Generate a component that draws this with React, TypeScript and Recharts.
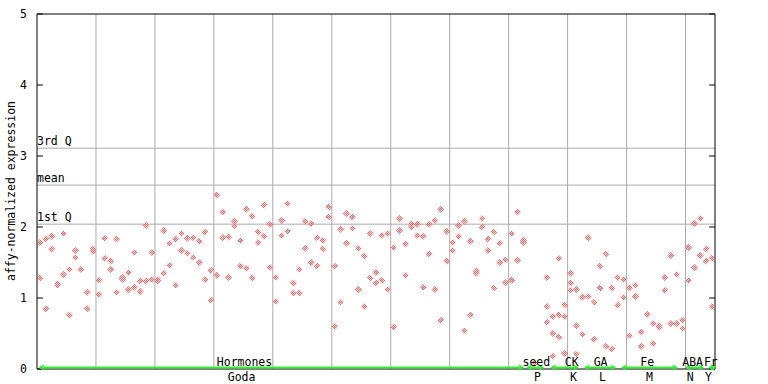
import React from 'react';
import { ComposedChart, Scatter, XAxis, YAxis, ReferenceLine, ReferenceDot } from 'recharts';

// replicate values per sample (index 0..114)
const repA: (number | null)[] = [
  1.78, 1.83, 1.87, 1.20, 1.91, 1.40, 1.67, 1.40, 1.08, 1.69,
  1.25, 1.84, 1.52, 1.83, 1.29, 1.36, 1.64, 1.24, 2.02, 1.64,
  1.26, 1.95, 1.77, 1.83, 1.91, 1.84, 1.85, 1.80, 1.93, 1.39,
  2.45, 2.21, 1.86, 2.08, 1.81, 2.25, 2.15, 1.93, 2.31, 2.04,
  1.29, 2.09, 2.33, 1.21, 1.40, 2.08, 2.05, 1.85, 1.81, 2.28,
  1.45, 1.97, 2.19, 2.14, 1.70, 1.59, 1.91, 1.36, 1.88, 1.91,
  1.71, 2.12, 1.76, 2.05, 2.04, 1.87, 2.04, 2.09, 2.25, 1.94,
  1.78, 2.02, 2.08, 1.80, 1.38, 2.12, 1.83, 1.93, 1.77, 1.54,
  1.91, 2.21, 1.81, null, 0.08, null, 1.29, 0.74, 1.56, 0.90,
  1.35, 1.12, 1.01, 1.85, 0.94, 1.45, 1.62, 1.14, 1.29, 1.26,
  1.14, 1.18, 0.52, 0.77, 0.64, 0.61, 1.29, 1.60, 1.33, 0.69,
  1.71, 2.05, 2.12, 1.69, 1.56,
];
const repB: (number | null)[] = [
  1.28, 0.85, 1.69, 1.18, 1.33, 0.76, 1.57, 1.40, 0.85, 1.66,
  1.05, 1.56, 1.40, 1.08, 1.26, 1.12, 1.15, 1.09, 1.24, 1.26,
  1.24, 1.35, 1.46, 1.18, 1.67, 1.63, 1.57, 1.50, 1.26, 0.97,
  1.32, 1.85, 1.29, 2.01, 1.45, 1.42, 1.28, 1.78, 1.87, 1.43,
  0.95, 1.88, 1.94, 1.07, 1.07, 1.70, 1.50, 1.45, 1.69, 2.14,
  0.60, 0.94, 1.77, 1.98, 1.12, 0.88, 1.28, 1.21, 1.25, 1.12,
  0.59, 1.95, 1.32, 2.00, 1.88, 1.15, 1.62, 1.12, 0.69, 1.52,
  1.67, 1.87, 0.54, 0.76, 1.35, 2.00, 1.67, 1.14, 1.50, 1.22,
  1.25, 1.53, 1.78, null, 0.08, null, 0.88, 0.50, 0.76, 0.74,
  1.21, 0.61, 0.49, 1.02, 0.42, 1.14, 0.32, 0.28, 0.90, 1.01,
  0.47, 1.02, 0.32, null, 0.36, 0.59, 1.11, 0.64, 0.64, 0.57,
  1.25, 1.43, 1.60, 1.52, 0.88,
];
const repCIndex = [86, 87, 88, 89, 90, 91];
const repCValue = [0.66, 0.18, 0.45, 0.22, 1.11, 0.21];

const yTicks = [0, 1, 2, 3, 4, 5];
const gridAt = [9.5, 19.5, 29.5, 39.5, 49.5, 59.5, 69.5, 79.5, 89.5, 99.5, 109.5];
const qValues = [3.11, 2.59, 2.04];
const qLabels = ['3rd Q', 'mean', '1st Q'];

const groupNames = ['Hormones', 'seed', 'CK', 'GA', 'Fe', 'ABA', 'Fr'];
const sampleNames = ['Goda', 'P', 'K', 'L', 'M', 'N', 'Y'];
const groupStart = [0, 82.7, 86.8, 92.5, 98.8, 109.7, 113.6];
const groupEnd = [81.9, 85.3, 91.2, 97.5, 108, 112.4, 114.5];
const groupLabelAt = [34.7, 84.2, 90.2, 95.1, 103, 110.7, 113.8];
const sampleLabelAt = [34.2, 84.4, 90.5, 95.4, 103.4, 110.3, 113.4];

const X_MIN = -0.5;
const X_MAX = 114.5;
const FONT = 'DejaVu Sans Mono, monospace';
const FS = 11.5;

const points: { idx: number; val: number }[] = [];
repA.forEach((v, i) => { if (v != null) points.push({ idx: i, val: v }); });
repB.forEach((v, i) => { if (v != null) points.push({ idx: i, val: v }); });
repCIndex.forEach((i, k) => points.push({ idx: i, val: repCValue[k] }));

const Diamond = (props: any) => {
  const { cx, cy } = props;
  if (cx == null || cy == null) return null;
  const r = 3.5;
  return (
    <g>
      <defs>
        <pattern id="chk" width="2" height="2" patternUnits="userSpaceOnUse">
          <rect x="0" y="0" width="1" height="1" fill="#ff4d4d" />
          <rect x="1" y="1" width="1" height="1" fill="#ff4d4d" />
        </pattern>
      </defs>
      <polygon
        points={`${cx},${cy - r} ${cx + r},${cy} ${cx},${cy + r} ${cx - r},${cy}`}
        fill="url(#chk)"
      />
    </g>
  );
};

const Arrow = (props: any) => {
  const { x1, x2, y1 } = props;
  if (x1 == null) return null;
  const y = y1 - 1.5;
  const c = '#33ee33';
  return (
    <g stroke={c} strokeWidth={2} fill="none">
      <line x1={x1} y1={y} x2={x2} y2={y} />
      <polyline points={`${x1 + 4},${y - 2.5} ${x1},${y} ${x1 + 4},${y + 2.5}`} strokeWidth={1.2} />
      <polyline points={`${x2 - 4},${y - 2.5} ${x2},${y} ${x2 - 4},${y + 2.5}`} strokeWidth={1.2} />
    </g>
  );
};

export default function App() {
  return (
    <div style={{ position: 'absolute', left: 0, top: 0, background: '#fff' }}>
      <ComposedChart
        width={768}
        height={384}
        margin={{ top: 14, right: 53, bottom: 15, left: 0 }}
      >
        <XAxis dataKey="idx" type="number" domain={[X_MIN, X_MAX]} hide allowDataOverflow />
        <YAxis
          dataKey="val"
          type="number"
          domain={[0, 5]}
          ticks={yTicks}
          width={37}
          tickLine={false}
          tickMargin={4}
          axisLine={{ stroke: '#000' }}
          tick={{ fill: '#000', fontSize: FS, fontFamily: FONT }}
          interval={0}
        />
        {gridAt.map((g) => (
          <ReferenceLine key={'g' + g} x={g} stroke="#aaaaaa" strokeWidth={1} />
        ))}
        {qValues.map((q, k) => (
          <ReferenceLine
            key={'q' + k}
            y={q}
            stroke="#aaaaaa"
            strokeWidth={1}
            label={{
              content: (p: any) => (
                <text x={p.viewBox.x} y={p.viewBox.y - 3} fill="#000" fontSize={FS} fontFamily={FONT}>
                  {qLabels[k]}
                </text>
              ),
            }}
          />
        ))}
        <ReferenceLine y={5} stroke="#000" />
        <ReferenceLine x={X_MAX} stroke="#000" />
        <ReferenceLine y={0} stroke="#000" />
        {yTicks.map((t) => (
          <ReferenceLine
            key={'tl' + t}
            segment={[{ x: X_MIN, y: t }, { x: X_MIN + 1, y: t }]}
            stroke="#000"
          />
        ))}
        {yTicks.map((t) => (
          <ReferenceLine
            key={'tr' + t}
            segment={[{ x: X_MAX - 1, y: t }, { x: X_MAX, y: t }]}
            stroke="#000"
          />
        ))}
        <Scatter data={points} isAnimationActive={false} shape={<Diamond />} />
        {groupNames.map((g, k) => (
          <ReferenceLine
            key={'ar' + k}
            segment={[{ x: groupStart[k], y: 0 }, { x: groupEnd[k], y: 0 }]}
            shape={<Arrow />}
            ifOverflow="visible"
          />
        ))}
        {groupNames.map((g, k) => (
          <ReferenceDot
            key={'gl' + k}
            x={groupLabelAt[k]}
            y={0}
            ifOverflow="visible"
            shape={(p: any) => (
              <text x={p.cx} y={p.cy - 3} textAnchor="middle" fill="#000" fontSize={FS} fontFamily={FONT}>
                {g}
              </text>
            )}
          />
        ))}
        {sampleNames.map((s, k) => (
          <ReferenceDot
            key={'sl' + k}
            x={sampleLabelAt[k]}
            y={0}
            ifOverflow="visible"
            shape={(p: any) => (
              <text x={p.cx} y={p.cy + 12} textAnchor="middle" fill="#000" fontSize={FS} fontFamily={FONT}>
                {s}
              </text>
            )}
          />
        ))}
        <text
          x={15}
          y={191}
          transform="rotate(-90, 15, 191)"
          textAnchor="middle"
          fill="#000"
          fontSize={FS}
          fontFamily={FONT}
        >
          affy-normalized expression
        </text>
      </ComposedChart>
    </div>
  );
}
